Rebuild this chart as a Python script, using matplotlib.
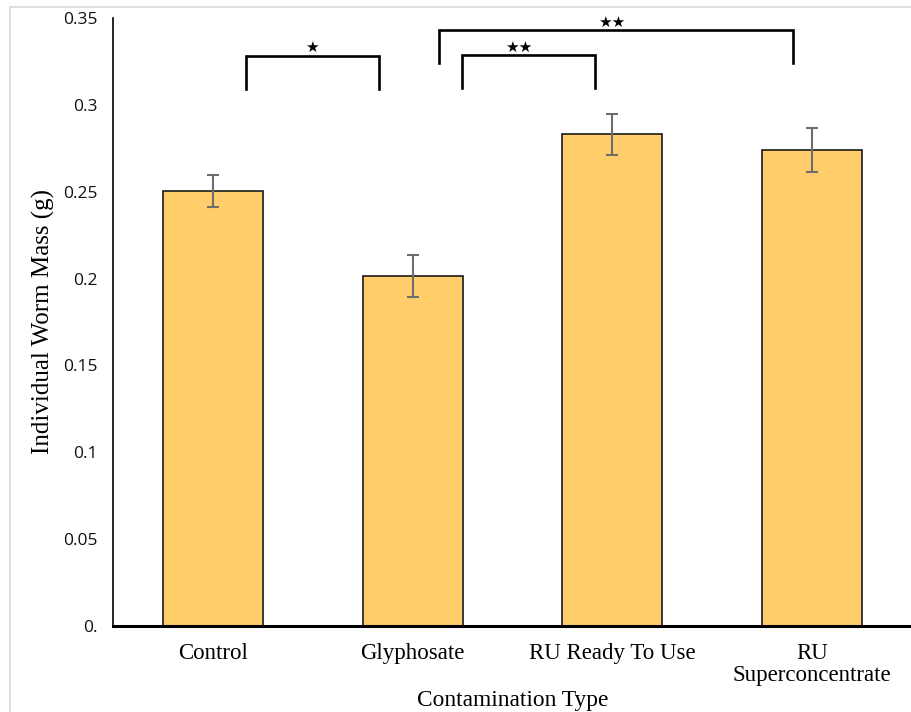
import matplotlib.pyplot as plt
from matplotlib.patches import Rectangle

categories = ["Control", "Glyphosate", "RU Ready To Use", "RU\nSuperconcentrate"]
mass = [0.2504, 0.2015, 0.2832, 0.2740]
err = [0.0092, 0.0121, 0.0118, 0.0124]

# significance brackets: (x left, x right, y top, y bottom, stars)
brackets = [
    (0.165, 0.83, 0.3281, 0.3091, "\u2605"),
    (1.245, 1.915, 0.3287, 0.3097, "\u2605\u2605"),
    (1.13, 2.905, 0.3431, 0.3241, "\u2605\u2605"),
]
star_pos = [(0.495, 0.3333), (1.53, 0.3333), (1.995, 0.3477)]

yticks = [0, 0.05, 0.1, 0.15, 0.2, 0.25, 0.3, 0.35]
ytick_labels = ["0.", "0.05", "0.1", "0.15", "0.2", "0.25", "0.3", "0.35"]

fig = plt.figure(figsize=(9.12, 7.12), dpi=100)
# light border around the chart area
fig.patches.append(Rectangle((10 / 912, -0.1), 1.2, (712 - 7) / 712 + 0.1,
                             transform=fig.transFigure, fill=False,
                             edgecolor="#d9d9d9", linewidth=1.2))

ax = fig.add_axes([113 / 912, (712 - 626) / 712, (912 - 113) / 912, (626 - 18) / 712])

x = list(range(len(categories)))
ax.bar(x, mass, width=0.5, color="#FFCD69", edgecolor="#1a1a1a", linewidth=1.2, zorder=2)
ax.errorbar(x, mass, yerr=err, fmt="none", ecolor="#6e6e6e", elinewidth=1.5,
            capsize=4, capthick=1.5, zorder=3)

for (x0, x1, ytop, ybot, s), (sx, sy) in zip(brackets, star_pos):
    ax.plot([x0, x0, x1, x1], [ybot, ytop, ytop, ybot], color="black", lw=1.9,
            solid_joinstyle="miter", clip_on=False)
    ax.text(sx, sy, s, ha="center", va="center", fontsize=11,
            family=["DejaVu Sans"], clip_on=False)

ax.set_xlim(-0.5, 3.5)
ax.set_ylim(0, 0.35)
ax.set_yticks(yticks)
ax.set_yticklabels(ytick_labels, family="Open Sans", fontsize=12.5, color="#111111")
ax.set_xticks(x)
ax.set_xticklabels(categories, family="Liberation Serif", fontsize=16.5, linespacing=1.1)
ax.tick_params(axis="both", length=0)
ax.tick_params(axis="y", pad=11)
ax.tick_params(axis="x", pad=12)

for side in ["top", "right"]:
    ax.spines[side].set_visible(False)
ax.spines["left"].set_linewidth(1.2)
ax.spines["bottom"].set_linewidth(2.2)

ax.set_ylabel("Individual Worm Mass (g)", family="Liberation Serif", fontsize=18, labelpad=6)
ax.set_xlabel("Contamination Type", family="Liberation Serif", fontsize=16.8, labelpad=2.5)

fig.savefig("out.png", dpi=100)
